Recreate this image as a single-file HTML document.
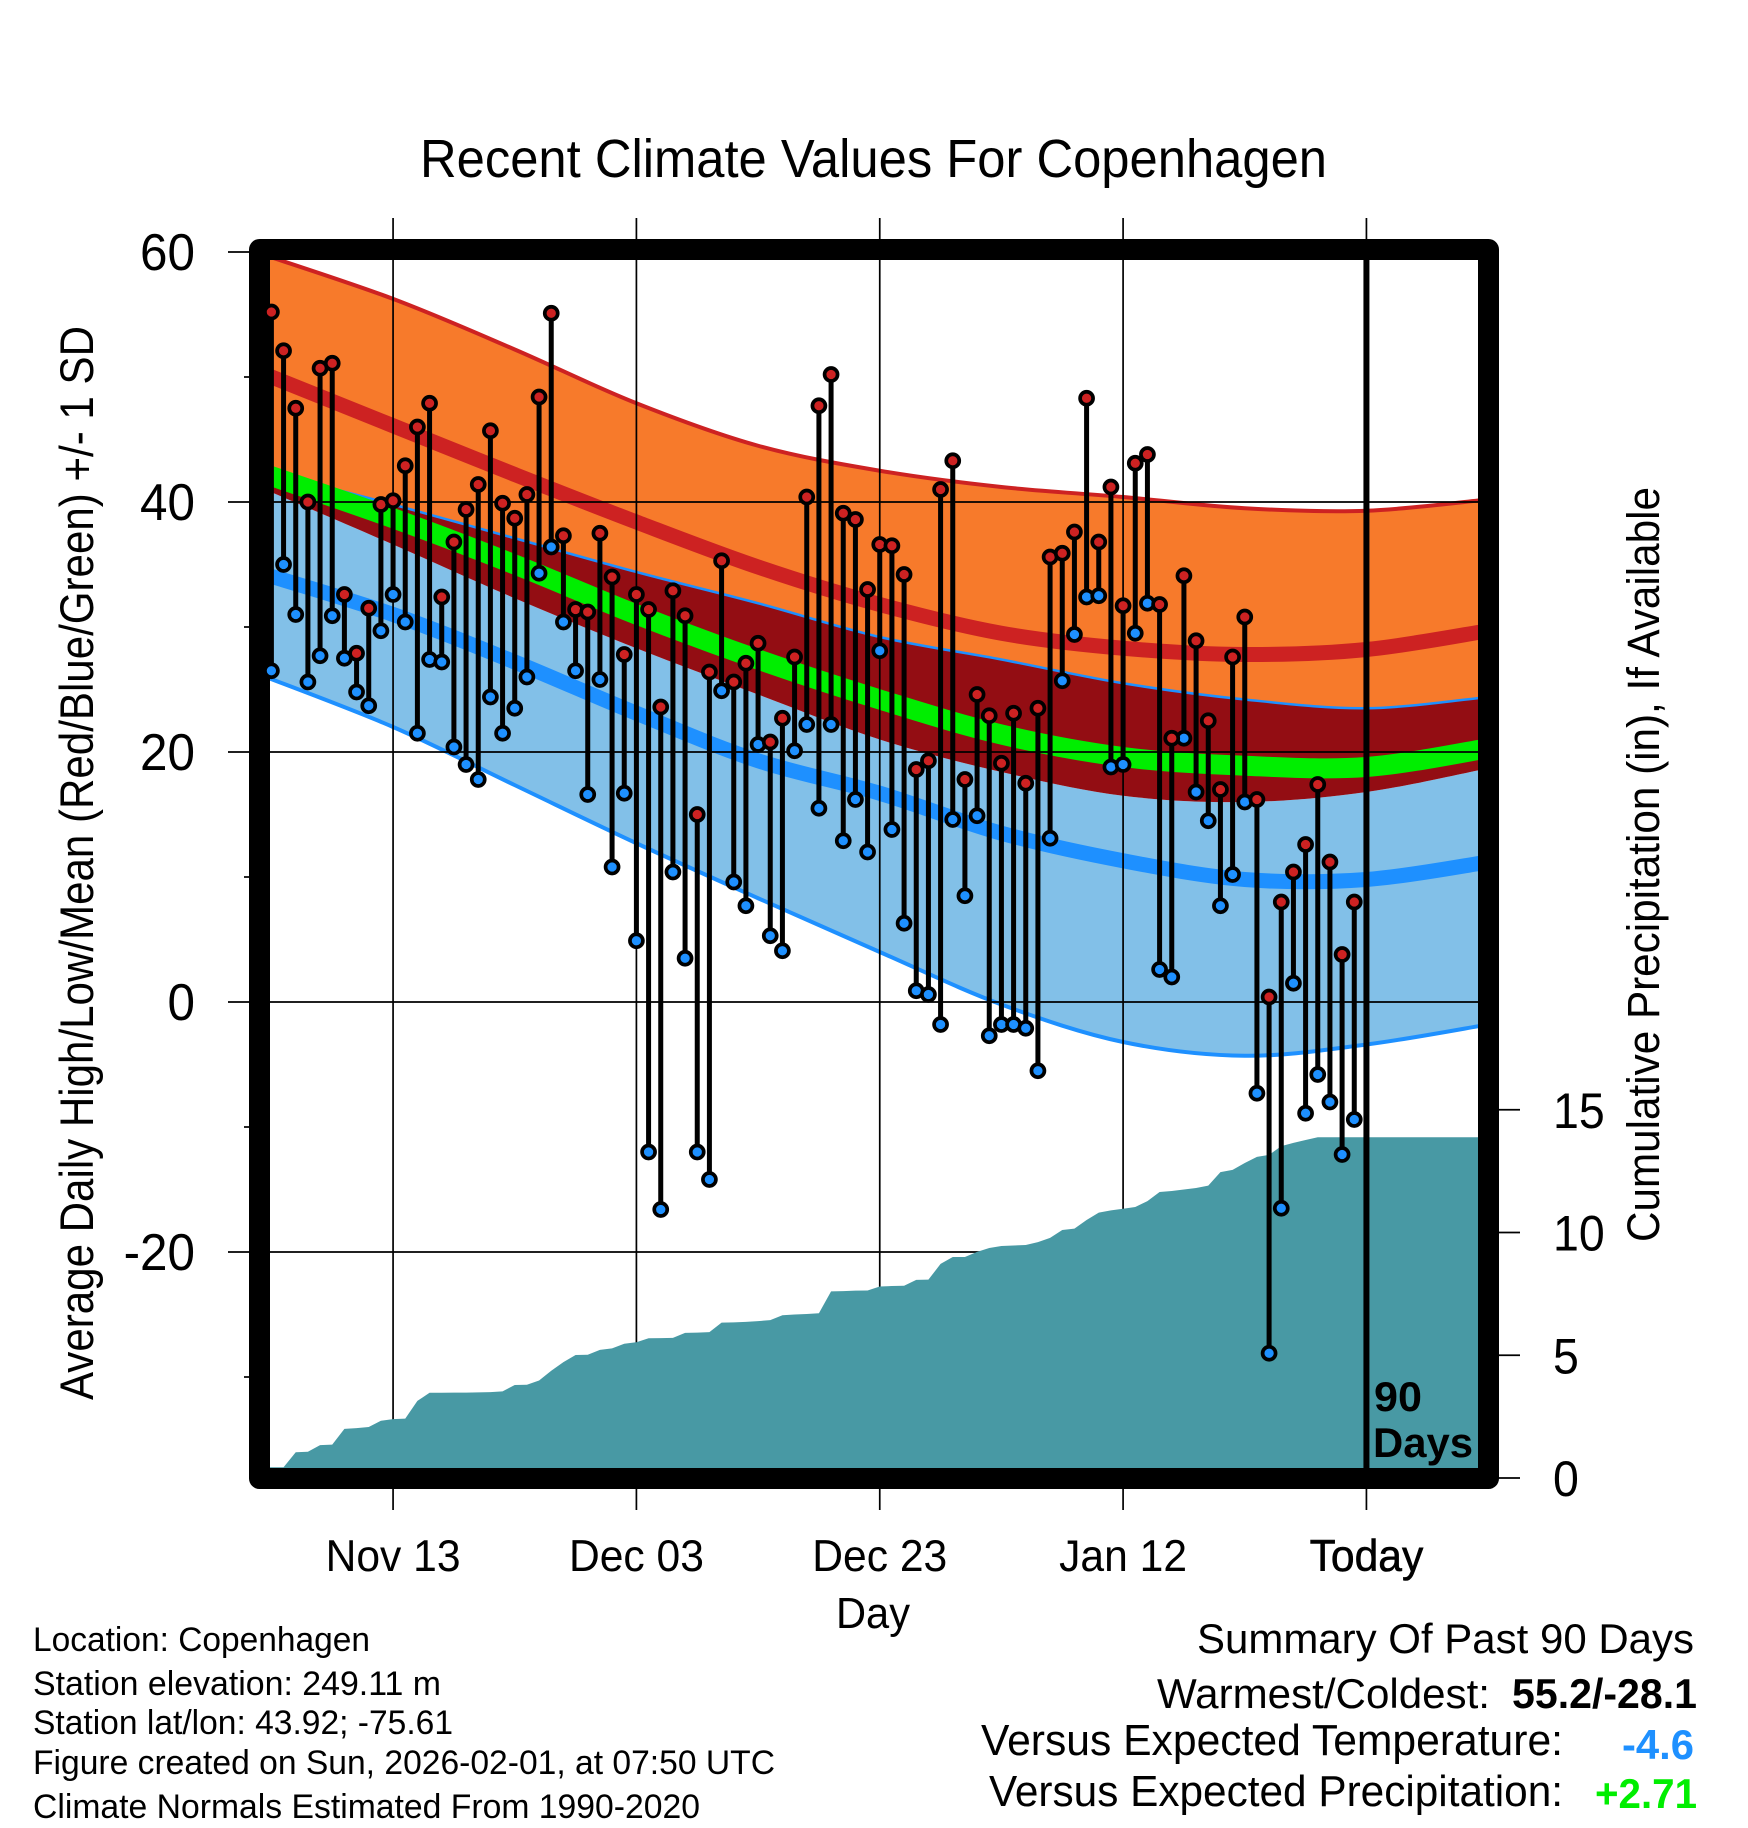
<!DOCTYPE html>
<html lang="en">
<head>
<meta charset="utf-8">
<title>Recent Climate Values For Copenhagen</title>
<style>
html,body{margin:0;padding:0;background:#fff;}
svg{display:block;}
text{font-family:"Liberation Sans",sans-serif;fill:#000;}
</style>
</head>
<body>
<svg id="chart" xmlns="http://www.w3.org/2000/svg" width="1748" height="1828" viewBox="0 0 1748 1828">
  <defs>
    <clipPath id="plot-clip"><rect x="270" y="260" width="1208" height="1208"/></clipPath>
  </defs>
  <rect x="0" y="0" width="1748" height="1828" fill="#fff"/>
  <g id="bands" clip-path="url(#plot-clip)"></g>
  <g id="grid"></g>
  <g id="precip" clip-path="url(#plot-clip)"></g>
  <rect x="259.5" y="249.5" width="1229" height="1229" fill="none" stroke="#000" stroke-width="21" stroke-linejoin="round"/>
  <g id="ticks"></g>
  <g id="marks"></g>
  <g id="tick-labels"></g>

  <text x="420" y="177" font-size="54" textLength="907" lengthAdjust="spacingAndGlyphs">Recent Climate Values For Copenhagen</text>
  <text transform="translate(93,1400) rotate(-90)" x="0" y="0" font-size="47.5" textLength="1074" lengthAdjust="spacingAndGlyphs">Average Daily High/Low/Mean (Red/Blue/Green) +/- 1 SD</text>
  <text transform="translate(1659,1242) rotate(-90)" x="0" y="0" font-size="45" textLength="755" lengthAdjust="spacingAndGlyphs">Cumulative Precipitation (in), If Available</text>
  <text x="836" y="1628" font-size="44" textLength="74" lengthAdjust="spacingAndGlyphs">Day</text>
  <text x="1374" y="1411" font-size="42" font-weight="bold" textLength="48" lengthAdjust="spacingAndGlyphs">90</text>
  <text x="1373" y="1457" font-size="42" font-weight="bold" textLength="100" lengthAdjust="spacingAndGlyphs">Days</text>

  <text x="33" y="1651" font-size="34.5" textLength="337" lengthAdjust="spacingAndGlyphs">Location: Copenhagen</text>
  <text x="33" y="1695" font-size="34.5" textLength="408" lengthAdjust="spacingAndGlyphs">Station elevation: 249.11 m</text>
  <text x="33" y="1734" font-size="34.5" textLength="420" lengthAdjust="spacingAndGlyphs">Station lat/lon: 43.92; -75.61</text>
  <text x="33" y="1774" font-size="34.5" textLength="742" lengthAdjust="spacingAndGlyphs">Figure created on Sun, 2026-02-01, at 07:50 UTC</text>
  <text x="33" y="1818" font-size="34.5" textLength="667" lengthAdjust="spacingAndGlyphs">Climate Normals Estimated From 1990-2020</text>

  <text x="1197" y="1653" font-size="42" textLength="497" lengthAdjust="spacingAndGlyphs">Summary Of Past 90 Days</text>
  <text x="1157" y="1708" font-size="42" textLength="333" lengthAdjust="spacingAndGlyphs">Warmest/Coldest:</text>
  <text x="1512" y="1708" font-size="42" font-weight="bold" textLength="185" lengthAdjust="spacingAndGlyphs">55.2/-28.1</text>
  <text x="981" y="1755" font-size="44" textLength="582" lengthAdjust="spacingAndGlyphs">Versus Expected Temperature:</text>
  <text x="1622" y="1759" font-size="42" font-weight="bold" textLength="72" lengthAdjust="spacingAndGlyphs" style="fill:#1E90FF">-4.6</text>
  <text x="989" y="1806" font-size="44" textLength="574" lengthAdjust="spacingAndGlyphs">Versus Expected Precipitation:</text>
  <text x="1595" y="1808" font-size="42" font-weight="bold" textLength="102" lengthAdjust="spacingAndGlyphs" style="fill:#00EE00">+2.71</text>
</svg>
<script>
const dailyHighs = [55.2,52.1,47.5,40.0,50.7,51.1,32.6,27.9,31.5,39.8,40.1,42.9,46.0,47.9,32.4,36.8,39.4,41.4,45.7,39.9,38.7,40.6,48.4,55.1,37.3,31.4,31.2,37.5,34.0,27.8,32.6,31.4,23.6,32.9,30.9,15.0,26.4,35.3,25.6,27.1,28.7,20.8,22.7,27.6,40.4,47.7,50.2,39.1,38.6,33.0,36.6,36.5,34.2,18.6,19.3,41.0,43.3,17.8,24.6,22.9,19.1,23.1,17.5,23.5,35.6,35.9,37.6,48.3,36.8,41.2,31.7,43.1,43.8,31.8,21.1,34.1,28.9,22.5,17.0,27.6,30.8,16.2,0.4,8.0,10.4,12.6,17.4,11.2,3.8,8.0];
const dailyLows = [26.5,35.0,31.0,25.6,27.7,30.9,27.5,24.8,23.7,29.7,32.6,30.4,21.5,27.4,27.2,20.4,19.0,17.8,24.4,21.5,23.5,26.0,34.3,36.4,30.4,26.5,16.6,25.8,10.8,16.7,4.9,-12.0,-16.6,10.4,3.5,-12.0,-14.2,24.9,9.6,7.7,20.6,5.3,4.1,20.1,22.2,15.5,22.2,12.9,16.2,12.0,28.1,13.8,6.3,0.9,0.6,-1.8,14.6,8.5,14.9,-2.7,-1.8,-1.8,-2.1,-5.5,13.1,25.7,29.4,32.4,32.5,18.8,19.0,29.5,31.9,2.6,2.0,21.1,16.8,14.5,7.7,10.2,16.0,-7.3,-28.1,-16.5,1.5,-8.9,-5.8,-8.0,-12.2,-9.4];
const precipTotals = [0.44,0.44,1.05,1.07,1.34,1.36,2.00,2.03,2.08,2.33,2.40,2.42,3.14,3.47,3.47,3.48,3.48,3.49,3.50,3.53,3.79,3.80,3.97,4.37,4.72,5.01,5.02,5.22,5.28,5.47,5.53,5.69,5.70,5.71,5.91,5.92,5.94,6.33,6.34,6.36,6.39,6.43,6.63,6.66,6.68,6.71,7.60,7.61,7.63,7.64,7.80,7.82,7.83,8.07,8.08,8.72,9.00,9.00,9.21,9.37,9.45,9.47,9.49,9.61,9.78,10.10,10.16,10.51,10.81,10.90,10.97,11.04,11.28,11.65,11.69,11.75,11.81,11.91,12.46,12.55,12.83,13.08,13.16,13.52,13.65,13.77,13.88,13.88,13.88,13.88,13.88];
const normalDays = [-1,10,20,30,40,50,60,70,80,90,100];
const normalHighPlusSd = [59.9,56.25,52.2,47.9,44.5,42.5,41.2,40.4,39.5,39.3,40.2];
const normalHighMean = [50.4,46.1,42.2,38.4,34.8,31.8,29.5,28.3,27.8,28.2,29.7];
const normalHighMinusSd = [42.6,39.8,37.1,34.4,31.9,29.2,27.4,25.5,24.2,23.5,24.4];
const normalAvgMean = [42.4,38.7,35.0,31.0,27.4,24.2,21.4,19.6,18.9,18.8,20.3];
const normalLowPlusSd = [41.2,36.6,32.3,28.3,24.6,21.0,18.4,16.5,16.0,16.8,18.7];
const normalLowMean = [34.35,31.0,27.2,23.1,19.3,16.7,13.5,11.3,9.8,9.8,11.2];
const normalLowMinusSd = [26.2,22.0,17.35,12.7,8.3,4.0,-0.2,-3.2,-4.3,-3.4,-1.8];
const tempMajorTicks = [60,40,20,0,-20];
const tempMinorTicks = [50,30,10,-10,-30];
const tempTickLabels = ['60','40','20','0','-20'];
const precipTicks = [0,5,10,15];
const precipTickLabels = ['0','5','10','15'];
const dateTickDays = [10,30,50,70,90];
const dateTickLabels = ['Nov 13','Dec 03','Dec 23','Jan 12','Today'];
const todayDay = 90;

const SVGNS = 'http://www.w3.org/2000/svg';
function xScale(day){ return 271.4 + 12.167 * day; }
function yScale(temp){ return 1002 - 12.5 * temp; }
function precipScale(inches){ return 1478 - 24.55 * inches; }

function make(tag, parent, attrs){
  const el = document.createElementNS(SVGNS, tag);
  for (const k in attrs) el.setAttribute(k, attrs[k]);
  parent.appendChild(el);
  return el;
}
function squeeze(label, factor){
  label.setAttribute('lengthAdjust', 'spacingAndGlyphs');
  label.setAttribute('textLength', (label.getComputedTextLength() * factor).toFixed(2));
}
function curvePoints(values){
  return values.map(function(v, i){ return [xScale(normalDays[i]), yScale(v)]; });
}
function smoothSegs(pts){
  let d = '';
  for (let i = 0; i < pts.length - 1; i++){
    const p0 = pts[Math.max(i - 1, 0)], p1 = pts[i], p2 = pts[i + 1], p3 = pts[Math.min(i + 2, pts.length - 1)];
    const c1x = p1[0] + (p2[0] - p0[0]) / 6, c1y = p1[1] + (p2[1] - p0[1]) / 6;
    const c2x = p2[0] - (p3[0] - p1[0]) / 6, c2y = p2[1] - (p3[1] - p1[1]) / 6;
    d += ' C' + c1x.toFixed(2) + ' ' + c1y.toFixed(2) + ' ' + c2x.toFixed(2) + ' ' + c2y.toFixed(2) + ' ' + p2[0].toFixed(2) + ' ' + p2[1].toFixed(2);
  }
  return d;
}
function linePath(values){
  const pts = curvePoints(values);
  return 'M' + pts[0][0].toFixed(2) + ' ' + pts[0][1].toFixed(2) + smoothSegs(pts);
}
function bandPath(upper, lower){
  const lo = curvePoints(lower).reverse();
  return linePath(upper) + ' L' + lo[0][0].toFixed(2) + ' ' + lo[0][1].toFixed(2) + smoothSegs(lo) + ' Z';
}

const bands = document.getElementById('bands');
const grid = document.getElementById('grid');
const precip = document.getElementById('precip');
const ticks = document.getElementById('ticks');
const marks = document.getElementById('marks');
const tickLabels = document.getElementById('tick-labels');

const orangeBand = make('path', bands, {d: bandPath(normalHighPlusSd, normalHighMinusSd), fill: '#F77A2B'});


const blueBand = make('path', bands, {d: bandPath(normalLowPlusSd, normalLowMinusSd), fill: '#82C0E8'});


const overlapBand = make('path', bands, {d: bandPath(normalHighMinusSd, normalLowPlusSd), fill: '#930D13'});


const highMinusLine = make('path', bands, {d: linePath(normalHighMinusSd), fill: 'none', stroke: '#1E90FF', 'stroke-width': 2.5});


const avgLine = make('path', bands, {d: linePath(normalAvgMean), fill: 'none', stroke: '#00EE00', 'stroke-width': 20});


const highMeanLine = make('path', bands, {d: linePath(normalHighMean), fill: 'none', stroke: '#CD2222', 'stroke-width': 15});


const lowMeanLine = make('path', bands, {d: linePath(normalLowMean), fill: 'none', stroke: '#1E90FF', 'stroke-width': 15});


const highPlusLine = make('path', bands, {d: linePath(normalHighPlusSd), fill: 'none', stroke: '#CD2222', 'stroke-width': 4});


const lowMinusLine = make('path', bands, {d: linePath(normalLowMinusSd), fill: 'none', stroke: '#1E90FF', 'stroke-width': 4});



tempMajorTicks.forEach(function(t, i){
  const gridLine = make('line', grid, {x1: 228, x2: 1478, y1: yScale(t), y2: yScale(t), stroke: '#000', 'stroke-width': 1.7});
  
  
  const label = make('text', tickLabels, {x: 195, y: yScale(t) + 18, 'font-size': 52, 'text-anchor': 'end'});
  label.textContent = tempTickLabels[i];
  
  
  squeeze(label, 0.95);
});
tempMinorTicks.forEach(function(t){
  const tick = make('line', ticks, {x1: 244, x2: 250, y1: yScale(t), y2: yScale(t), stroke: '#000', 'stroke-width': 1.7});
  
  
});
dateTickDays.forEach(function(day, i){
  const gridLine = make('line', grid, {x1: xScale(day), x2: xScale(day), y1: 218, y2: 1510, stroke: '#000', 'stroke-width': 1.7});
  
  
  const label = make('text', tickLabels, {x: xScale(day), y: 1571, 'font-size': 44.6, 'text-anchor': 'middle'});
  label.textContent = dateTickLabels[i];
  
  
  squeeze(label, 0.955);
  if (day === todayDay) {
    label.setAttribute('stroke', '#000');
    label.setAttribute('stroke-width', '0.6');
  }
});
precipTicks.forEach(function(p, i){
  const tick = make('line', ticks, {x1: 1498, x2: 1520, y1: precipScale(p), y2: precipScale(p), stroke: '#000', 'stroke-width': 1.7});
  
  
  const label = make('text', tickLabels, {x: 1553, y: precipScale(p) + 18, 'font-size': 50});
  label.textContent = precipTickLabels[i];
  
  
  squeeze(label, 0.93);
});

let precipD = 'M' + xScale(-1) + ' 1480';
precipTotals.forEach(function(p, i){
  if (i === 0) precipD += ' L' + xScale(-1) + ' ' + precipScale(p).toFixed(2);
  precipD += ' L' + xScale(i).toFixed(2) + ' ' + precipScale(p).toFixed(2);
});
precipD += ' L' + xScale(100) + ' ' + precipScale(precipTotals[precipTotals.length - 1]).toFixed(2) + ' L' + xScale(100) + ' 1480 Z';
const precipArea = make('path', precip, {d: precipD, fill: '#4899A4'});



dailyHighs.forEach(function(h, i){
  const stem = make('line', marks, {x1: xScale(i), x2: xScale(i), y1: yScale(h), y2: yScale(dailyLows[i]), stroke: '#000', 'stroke-width': 5});
  
  
});
dailyLows.forEach(function(l, i){
  const lowDot = make('circle', marks, {cx: xScale(i), cy: yScale(l), r: 6.5, fill: '#1E90FF', stroke: '#000', 'stroke-width': 3.7});
  
  
});
dailyHighs.forEach(function(h, i){
  const highDot = make('circle', marks, {cx: xScale(i), cy: yScale(h), r: 6.5, fill: '#CD2222', stroke: '#000', 'stroke-width': 3.7});
  
  
});
const todayLine = make('line', marks, {x1: xScale(todayDay), x2: xScale(todayDay), y1: 260, y2: 1468, stroke: '#000', 'stroke-width': 6});


</script>
</body>
</html>
